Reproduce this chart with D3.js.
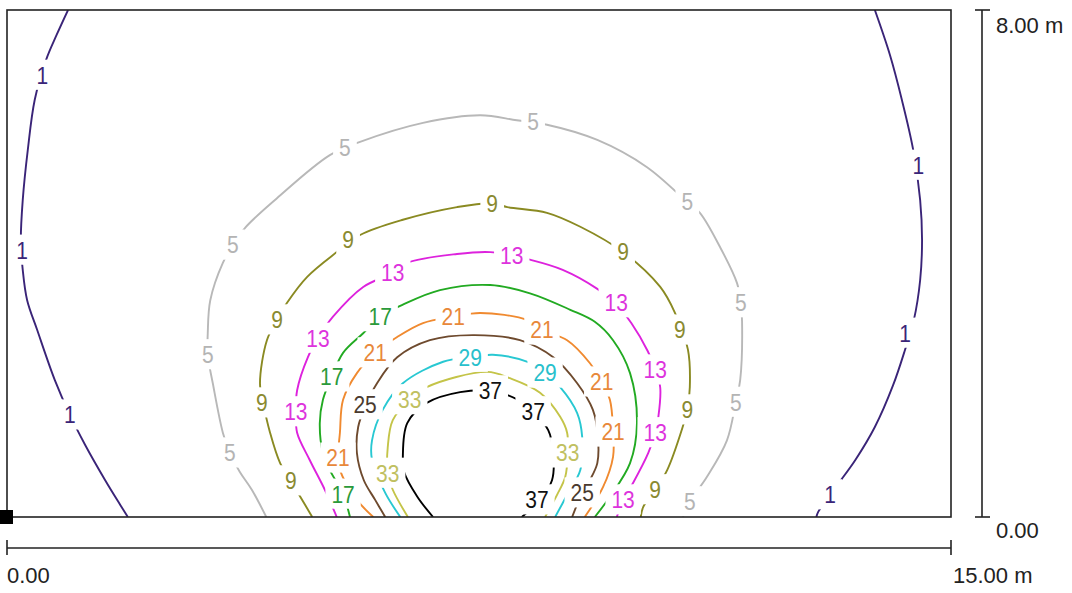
<!DOCTYPE html>
<html>
  <head>
    <title>Isolux</title>
    <script src="https://d3js.org/d3.v7.min.js"></script>
    <style>
      body { margin: 0; background: #fff; }
      text { font-family: "Liberation Sans", Arial, sans-serif; }
    </style>
  </head>
  <body>
    <div id="chart"></div>
    <script>
      // contour levels (lux)
      const levels = [1, 5, 9, 13, 17, 21, 25, 29, 33, 37];

      // contour lines, [x m, y m]
      const iso1Left = [[0.97,8.00],[0.79,7.61],[0.62,7.21],[0.44,6.58],[0.33,5.79],[0.25,5.00],[0.22,4.37],[0.25,3.90],[0.32,3.42],[0.48,2.95],[0.76,2.16],[1.00,1.61],[1.24,1.14],[1.56,0.58],[1.80,0.19],[1.92,0]];
      const iso1Right = [[13.79,8.00],[14.03,7.29],[14.22,6.58],[14.40,5.79],[14.51,5.00],[14.54,4.37],[14.51,3.74],[14.41,3.11],[14.27,2.64],[14.08,2.08],[13.79,1.42],[13.48,0.90],[13.16,0.46],[12.89,0.08],[12.86,0]];
      const iso5 = [[4.12,0],[3.89,0.43],[3.70,0.71],[3.54,1.01],[3.43,1.33],[3.27,2.11],[3.19,2.56],[3.19,2.90],[3.23,3.42],[3.43,4.01],[3.59,4.29],[3.78,4.56],[4.29,5.03],[5.13,5.71],[5.61,5.92],[6.61,6.22],[7.52,6.34],[8.10,6.26],[8.58,6.19],[9.38,5.95],[10.17,5.52],[10.81,4.97],[11.01,4.80],[11.33,4.26],[11.60,3.69],[11.66,3.38],[11.68,3.08],[11.65,2.16],[11.58,1.81],[11.44,1.21],[11.12,0.63],[10.85,0.24],[10.74,0]];
      const iso9 = [[4.85,0],[4.66,0.32],[4.51,0.57],[4.34,0.85],[4.18,1.33],[4.07,1.80],[4.02,2.11],[4.13,2.79],[4.29,3.11],[4.45,3.38],[4.77,3.79],[5.24,4.18],[5.61,4.45],[6.29,4.69],[7.15,4.89],[7.71,4.95],[7.95,4.89],[8.58,4.80],[9.11,4.58],[9.79,4.18],[10.38,3.63],[10.61,3.23],[10.82,2.64],[10.85,2.05],[10.81,1.69],[10.73,1.40],[10.49,0.74],[10.30,0.43],[10.11,0.16],[10.07,0]];
      const iso13 = [[5.24,0],[5.05,0.43],[4.81,0.90],[4.61,1.33],[4.59,1.66],[4.61,2.00],[4.78,2.52],[4.94,2.82],[5.18,3.16],[5.66,3.63],[6.13,3.85],[6.36,4.01],[7.15,4.15],[7.68,4.18],[8.02,4.12],[8.31,4.06],[8.83,3.90],[9.38,3.60],[9.68,3.36],[9.92,3.06],[10.18,2.62],[10.31,2.32],[10.38,2.04],[10.35,1.58],[10.30,1.33],[10.19,1.01],[9.95,0.54],[9.79,0.27],[9.69,0]];
      const iso17 = [[5.45,0],[5.34,0.36],[5.13,0.74],[5.02,1.01],[4.97,1.48],[5.02,1.85],[5.16,2.21],[5.34,2.59],[5.66,2.90],[5.93,3.16],[6.29,3.35],[6.88,3.58],[7.68,3.66],[8.31,3.53],[8.95,3.27],[9.34,3.08],[9.63,2.79],[9.90,2.27],[10.01,1.48],[9.90,0.85],[9.58,0.32],[9.34,0]];
      const iso21 = [[5.82,0],[5.56,0.27],[5.29,0.74],[5.26,0.93],[5.29,1.33],[5.34,1.85],[5.56,2.27],[5.85,2.59],[6.20,2.84],[6.61,3.06],[7.09,3.16],[7.52,3.22],[8.26,3.11],[8.50,2.95],[8.90,2.79],[9.26,2.43],[9.45,2.13],[9.58,1.85],[9.63,1.37],[9.63,0.95],[9.47,0.47],[9.18,0]];
      const iso25 = [[6.01,0],[5.85,0.27],[5.67,0.58],[5.56,1.01],[5.58,1.42],[5.69,1.74],[5.88,2.11],[6.20,2.52],[6.72,2.79],[7.40,2.87],[8.15,2.79],[8.68,2.52],[9.06,2.11],[9.31,1.69],[9.39,1.26],[9.38,0.85],[9.26,0.58],[9.14,0.38],[8.98,0]];
      const iso29 = [[6.25,0],[6.01,0.38],[5.80,0.90],[5.80,1.21],[5.97,1.69],[6.29,2.11],[6.93,2.45],[7.36,2.52],[7.72,2.56],[8.26,2.45],[8.55,2.27],[8.79,2.05],[9.06,1.64],[9.14,1.26],[9.11,0.74],[8.90,0.35],[8.71,0]];
      const iso33 = [[6.37,0],[6.13,0.43],[6.05,0.69],[6.05,1.10],[6.13,1.53],[6.40,1.85],[6.67,2.05],[7.63,2.29],[7.99,2.19],[8.47,1.96],[8.79,1.58],[8.90,1.33],[8.91,1.01],[8.87,0.63],[8.74,0.35],[8.55,0]];
      const iso37 = [[6.77,0],[6.52,0.32],[6.31,0.71],[6.29,0.95],[6.36,1.48],[6.67,1.80],[7.20,1.97],[7.68,1.99],[8.10,1.86],[8.36,1.66],[8.60,1.37],[8.68,1.01],[8.66,0.58],[8.47,0.27],[8.18,0]];

      // label positions on each contour, [x m, y m]
      const lab1 = [[0.56,6.97],[0.24,4.21],[1.00,1.61],[14.48,5.55],[14.27,2.90],[13.08,0.35]];
      const lab5 = [[5.37,5.82],[3.59,4.29],[3.19,2.56],[3.54,1.01],[8.36,6.23],[10.81,4.97],[11.66,3.38],[11.58,1.81],[10.85,0.24]];
      const lab9 = [[7.71,4.95],[5.42,4.37],[4.29,3.11],[4.05,1.80],[4.51,0.57],[9.79,4.18],[10.69,2.95],[10.81,1.69],[10.30,0.43]];
      const lab13 = [[8.02,4.12],[6.13,3.85],[4.94,2.82],[4.59,1.66],[9.68,3.38],[10.30,2.32],[10.30,1.33],[9.79,0.27]];
      const lab17 = [[5.93,3.16],[5.16,2.21],[5.34,0.36]];
      const lab21 = [[7.09,3.16],[8.50,2.95],[5.85,2.59],[5.26,0.93],[9.45,2.13],[9.63,1.34]];
      const lab25 = [[5.69,1.77],[9.14,0.38]];
      const lab29 = [[7.36,2.52],[8.55,2.27]];
      const lab33 = [[6.40,1.85],[6.05,0.69],[8.91,1.01]];
      const lab37 = [[7.68,1.99],[8.36,1.66],[8.42,0.27]];

      // scale bar labels
      const xTickValues = [0, 15];
      const xTickLabels = ["0.00", "15.00 m"];
      const yTickValues = [0, 8];
      const yTickLabels = ["0.00", "8.00 m"];

      const lineColors = ["#3a2478", "#b8b8b8", "#8a8a22", "#dd22dd", "#22aa22",
                          "#f08a30", "#6e4a2e", "#28c8d2", "#c4c448", "#000000"];
      const labelColors = ["#3a2478", "#b4b4b4", "#8a8a30", "#dd33dd", "#2a9a3a",
                           "#e8883a", "#4a3a2e", "#28c0cc", "#c0c060", "#111111"];

      const isoLines = [
        {level: 1, pts: iso1Left}, {level: 1, pts: iso1Right}, {level: 5, pts: iso5},
        {level: 9, pts: iso9}, {level: 13, pts: iso13}, {level: 17, pts: iso17},
        {level: 21, pts: iso21}, {level: 25, pts: iso25}, {level: 29, pts: iso29},
        {level: 33, pts: iso33}, {level: 37, pts: iso37}
      ];
      const labelSets = [lab1, lab5, lab9, lab13, lab17, lab21, lab25, lab29, lab33, lab37];
      const isoLabels = [];
      labelSets.forEach((set, i) => set.forEach(p => isoLabels.push({level: levels[i], x: p[0], y: p[1]})));

      const color = d3.scaleOrdinal().domain(levels).range(lineColors);
      const labColor = d3.scaleOrdinal().domain(levels).range(labelColors);

      const W = 1072, H = 593;
      const plot = {left: 7, right: 951, top: 10, bottom: 517};

      const svg = d3.select("#chart").append("svg")
        .attr("width", W).attr("height", H);

      const x = d3.scaleLinear().domain([0, 15]).range([plot.left, plot.right]);
      const y = d3.scaleLinear().domain([0, 8]).range([plot.bottom, plot.top]);

      svg.append("clipPath").attr("id", "clip")
        .append("rect")
          .attr("x", plot.left).attr("y", plot.top)
          .attr("width", plot.right - plot.left).attr("height", plot.bottom - plot.top);

      const g = svg.append("g").attr("clip-path", "url(#clip)");

      const line = d3.line()
        .x(d => x(d[0])).y(d => y(d[1]))
        .curve(d3.curveCatmullRom.alpha(0.5));

      g.selectAll("path.iso")
        .data(isoLines)
        .join("path")
          .attr("class", "iso")
          .attr("d", d => line(d.pts))
          .attr("fill", "none")
          .attr("stroke", d => color(d.level))
          .attr("stroke-width", 1.9);

      // labels with a white knock-out box behind them
      const lg = g.selectAll("g.lab")
        .data(isoLabels)
        .join("g")
          .attr("class", "lab")
          .attr("transform", d => `translate(${x(d.x)},${y(d.y)})`);

      lg.append("text")
        .attr("text-anchor", "middle")
        .attr("dy", "0.36em")
        .attr("font-size", "21px")
        .attr("transform", "scale(1,1.1)")
        .attr("fill", d => labColor(d.level))
        .text(d => d.level);

      lg.each(function() {
        const grp = d3.select(this);
        const bb = grp.select("text").node().getBBox();
        grp.insert("rect", "text")
          .attr("x", bb.x - 6).attr("y", bb.y * 1.1 - 3)
          .attr("width", bb.width + 12).attr("height", bb.height * 1.1 + 4)
          .attr("fill", "#fff");
      });

      // plot frame
      svg.append("rect")
        .attr("x", plot.left).attr("y", plot.top)
        .attr("width", plot.right - plot.left).attr("height", plot.bottom - plot.top)
        .attr("fill", "none").attr("stroke", "#222").attr("stroke-width", 1.6);

      // origin marker
      svg.append("rect")
        .attr("x", x(0) - 7).attr("y", y(0) - 7)
        .attr("width", 13).attr("height", 14)
        .attr("fill", "#000");

      // horizontal scale bar
      const barY = 548, barX = 982;
      const sb = svg.append("g").attr("stroke", "#222").attr("stroke-width", 1.6);
      sb.append("line")
        .attr("x1", x(0)).attr("x2", x(15)).attr("y1", barY).attr("y2", barY);
      sb.selectAll("line.xt")
        .data(xTickValues)
        .join("line")
          .attr("class", "xt")
          .attr("x1", d => x(d)).attr("x2", d => x(d))
          .attr("y1", barY - 8).attr("y2", barY + 7);

      svg.selectAll("text.xl")
        .data(xTickValues)
        .join("text")
          .attr("class", "xl")
          .attr("x", (d, i) => x(d) + (i === 0 ? 0 : 2))
          .attr("y", 583)
          .attr("font-size", "22px")
          .attr("fill", "#222")
          .text((d, i) => xTickLabels[i]);

      // vertical scale bar
      sb.append("line")
        .attr("x1", barX).attr("x2", barX).attr("y1", y(0)).attr("y2", y(8));
      sb.selectAll("line.yt")
        .data(yTickValues)
        .join("line")
          .attr("class", "yt")
          .attr("x1", barX - 7).attr("x2", barX + 8)
          .attr("y1", d => y(d)).attr("y2", d => y(d));

      svg.selectAll("text.yl")
        .data(yTickValues)
        .join("text")
          .attr("class", "yl")
          .attr("x", 996)
          .attr("y", d => d === 0 ? y(d) + 21 : y(d) + 23)
          .attr("font-size", "22px")
          .attr("fill", "#222")
          .text((d, i) => yTickLabels[i]);
    </script>
  </body>
</html>
